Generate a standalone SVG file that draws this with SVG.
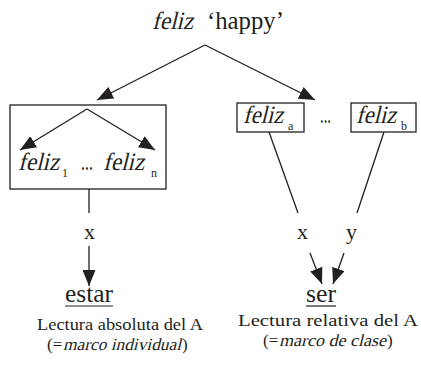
<svg xmlns="http://www.w3.org/2000/svg" width="421" height="366" viewBox="0 0 421 366">
<style>
  text { font-family: "Liberation Serif", "Times New Roman", serif; fill: #231f20; }
  .it { font-size: 25px; }
  .rm { font-size: 25px; }
  .sub { font-size: 12px; }
  .lab { font-size: 22px; }
  .cap { font-size: 17px; }
  .box { fill: none; stroke: #231f20; stroke-width: 1.3; }
  .ln { fill: none; stroke: #231f20; stroke-width: 1.3; }
  .ul { stroke: #231f20; stroke-width: 1.2; }
</style>
<defs>
  <marker id="ah" viewBox="0 0 16 13" refX="16" refY="6.5" markerWidth="16" markerHeight="13" markerUnits="userSpaceOnUse" orient="auto">
    <path d="M0,0 L16,6.5 L0,13 z" fill="#231f20"/>
  </marker>
</defs>
<rect width="421" height="366" fill="#ffffff"/>

<g id="title">
  <text transform="translate(152,29) skewX(-14)" class="it" textLength="41" lengthAdjust="spacingAndGlyphs">feliz</text>
  <text x="207" y="29" class="rm" textLength="77" lengthAdjust="spacingAndGlyphs">‘happy’</text>
</g>

<g id="box-individual">
  <rect x="10" y="105" width="156" height="84" class="box"/>
  <text transform="translate(18,170) skewX(-14)" class="it" textLength="41" lengthAdjust="spacingAndGlyphs">feliz</text>
  <text x="62" y="177" class="sub">1</text>
  <text x="81" y="170" class="rm" textLength="12" lengthAdjust="spacingAndGlyphs">...</text>
  <text transform="translate(103,170) skewX(-14)" class="it" textLength="41" lengthAdjust="spacingAndGlyphs">feliz</text>
  <text x="151" y="177" class="sub">n</text>
</g>

<g id="feliz-a">
  <rect x="237" y="103" width="67" height="29" class="box"/>
  <text transform="translate(243,123) skewX(-14)" class="it" textLength="40" lengthAdjust="spacingAndGlyphs">feliz</text>
  <text x="288" y="130" class="sub">a</text>
</g>

<g id="dots">
  <text x="320" y="123" class="rm" textLength="11" lengthAdjust="spacingAndGlyphs">...</text>
</g>

<g id="feliz-b">
  <rect x="351" y="103" width="65" height="29" class="box"/>
  <text transform="translate(356,123) skewX(-14)" class="it" textLength="40" lengthAdjust="spacingAndGlyphs">feliz</text>
  <text x="401" y="130" class="sub">b</text>
</g>

<g id="estar">
  <text x="65" y="302" class="rm" textLength="48" lengthAdjust="spacingAndGlyphs">estar</text>
  <line x1="65" y1="306" x2="113" y2="306" class="ul"/>
</g>

<g id="ser">
  <text x="306" y="302" class="rm" textLength="30" lengthAdjust="spacingAndGlyphs">ser</text>
  <line x1="306" y1="306" x2="336" y2="306" class="ul"/>
</g>

<g id="caption-left">
  <text x="37" y="330" class="cap" textLength="166" lengthAdjust="spacingAndGlyphs">Lectura absoluta del A</text>
  <text x="47" y="350" class="cap">(=</text>
  <text transform="translate(63,350) skewX(-14)" class="cap" textLength="118" lengthAdjust="spacingAndGlyphs">marco individual</text>
  <text x="182" y="350" class="cap">)</text>
</g>

<g id="caption-right">
  <text x="238" y="326" class="cap" textLength="180" lengthAdjust="spacingAndGlyphs">Lectura relativa del A</text>
  <text x="263" y="346" class="cap">(=</text>
  <text transform="translate(279,346) skewX(-14)" class="cap" textLength="107" lengthAdjust="spacingAndGlyphs">marco de clase</text>
  <text x="387" y="346" class="cap">)</text>
</g>

<g id="connectors">
  <line x1="205" y1="45" x2="97" y2="100" class="ln" marker-end="url(#ah)"/>
  <line x1="205" y1="45" x2="315" y2="100" class="ln" marker-end="url(#ah)"/>
  <line x1="87" y1="109" x2="20" y2="150" class="ln" marker-end="url(#ah)"/>
  <line x1="87" y1="109" x2="155" y2="150" class="ln" marker-end="url(#ah)"/>
  <line x1="89" y1="189" x2="89" y2="213" class="ln"/>
  <text x="84" y="239" class="lab">x</text>
  <line x1="89" y1="246" x2="89" y2="286" class="ln" marker-end="url(#ah)"/>
  <line x1="269" y1="132" x2="298" y2="213" class="ln"/>
  <line x1="384" y1="132" x2="357" y2="213" class="ln"/>
  <text x="297" y="239" class="lab">x</text>
  <text x="346" y="239" class="lab">y</text>
  <line x1="310" y1="253" x2="322" y2="284" class="ln" marker-end="url(#ah)"/>
  <line x1="344" y1="253" x2="333" y2="284" class="ln" marker-end="url(#ah)"/>
</g>
</svg>
